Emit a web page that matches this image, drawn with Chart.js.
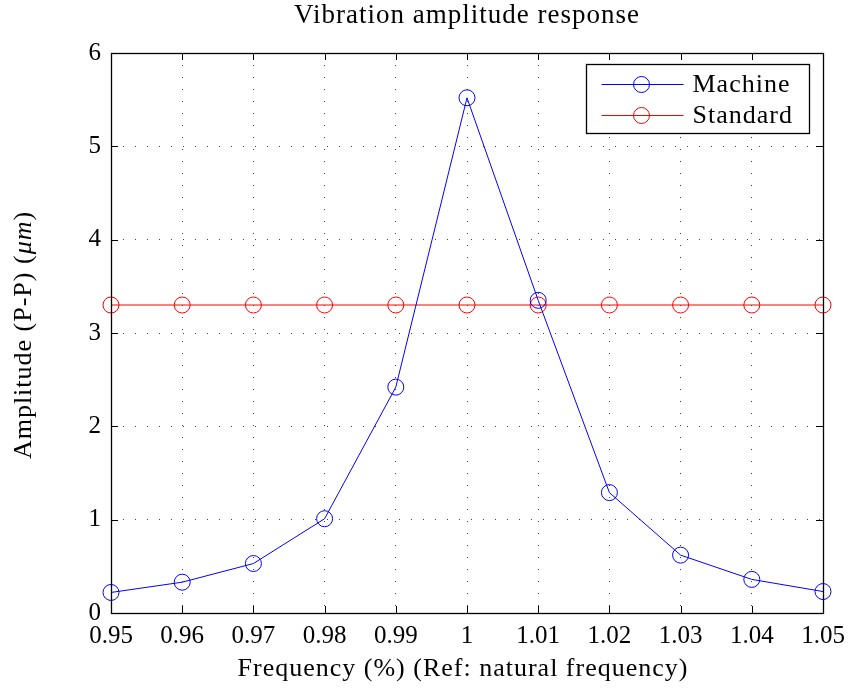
<!DOCTYPE html>
<html>
<head>
<meta charset="utf-8">
<script src="https://cdn.jsdelivr.net/npm/chart.js@4/dist/chart.umd.min.js"></script>
<style>
  html, body { margin: 0; padding: 0; background: #fff; }
</style>
</head>
<body>
<canvas id="chart" width="848" height="693"></canvas>
<script>
// data
const freq = [0.95, 0.96, 0.97, 0.98, 0.99, 1.00, 1.01, 1.02, 1.03, 1.04, 1.05];
const machine = [0.22, 0.33, 0.53, 1.01, 2.42, 5.52, 3.35, 1.29, 0.62, 0.36, 0.23];
const standard = [3.3, 3.3, 3.3, 3.3, 3.3, 3.3, 3.3, 3.3, 3.3, 3.3, 3.3];
const xTicks = [0.95, 0.96, 0.97, 0.98, 0.99, 1.00, 1.01, 1.02, 1.03, 1.04, 1.05];
const yTicks = [0, 1, 2, 3, 4, 5, 6];
const seriesNames = ['Machine', 'Standard'];
const seriesColors = ['#0000ff', '#ff0000'];
const titleText = 'Vibration amplitude response';
const xTitle = 'Frequency (%) (Ref: natural frequency)';

const FONT = '"Liberation Serif", "DejaVu Serif", serif';

function pts(ys) {
  return freq.map((x, i) => ({ x: x, y: ys[i] }));
}

function ds(label, ys, color) {
  return {
    label: label,
    data: pts(ys),
    borderColor: color,
    borderWidth: 1,
    pointStyle: 'circle',
    pointRadius: 8,
    pointHoverRadius: 8,
    pointBorderWidth: 1,
    pointBorderColor: color,
    pointBackgroundColor: 'rgba(0,0,0,0)',
    tension: 0,
    clip: false
  };
}

// frame, inward tick marks, boxed legend, titles
const decor = {
  id: 'decor',
  afterDraw(chart) {
    const ctx = chart.ctx;
    const a = chart.chartArea;
    const xs = chart.scales.x, ys = chart.scales.y;
    const tl = 7;
    const midX = (a.left + a.right) / 2;
    const midY = (a.top + a.bottom) / 2;
    ctx.save();
    ctx.strokeStyle = '#000';
    ctx.lineWidth = 1;
    ctx.beginPath();
    xTicks.forEach(v => {
      const px = Math.round(xs.getPixelForValue(v)) + 0.5;
      ctx.moveTo(px, a.bottom); ctx.lineTo(px, a.bottom - tl);
      ctx.moveTo(px, a.top); ctx.lineTo(px, a.top + tl);
    });
    yTicks.forEach(v => {
      const py = Math.round(ys.getPixelForValue(v)) + 0.5;
      ctx.moveTo(a.left, py); ctx.lineTo(a.left + tl, py);
      ctx.moveTo(a.right, py); ctx.lineTo(a.right - tl, py);
    });
    ctx.stroke();
    ctx.lineWidth = 1.3;
    ctx.strokeRect(Math.round(a.left) + 0.5, Math.round(a.top) + 0.5,
      Math.round(a.right - a.left), Math.round(a.bottom - a.top));

    // legend
    const bw = 223, bh = 69;
    const bx = Math.round(a.right - 14 - bw) + 0.5, by = Math.round(a.top + 11) + 0.5;
    ctx.fillStyle = '#fff';
    ctx.fillRect(bx, by, bw, bh);
    ctx.lineWidth = 1.3;
    ctx.strokeRect(bx, by, bw, bh);
    ctx.letterSpacing = '1px';
    ctx.font = '26px ' + FONT;
    ctx.textBaseline = 'middle';
    ctx.textAlign = 'left';
    seriesNames.forEach((name, i) => {
      const cy = by + 20 + i * 31;
      ctx.strokeStyle = seriesColors[i];
      ctx.lineWidth = 1;
      ctx.beginPath();
      ctx.moveTo(bx + 15, cy); ctx.lineTo(bx + 97, cy);
      ctx.stroke();
      ctx.beginPath();
      ctx.arc(bx + 55, cy, 8, 0, Math.PI * 2);
      ctx.stroke();
      ctx.fillStyle = '#000';
      ctx.fillText(name, bx + 106, cy + 1);
    });

    // chart title and x title
    ctx.textBaseline = 'alphabetic';
    ctx.textAlign = 'center';
    ctx.font = '27px ' + FONT;
    ctx.fillText(titleText, midX, 23);
    ctx.font = '26px ' + FONT;
    ctx.fillText(xTitle, midX - 4, 676);

    // y axis title with italic unit
    ctx.textAlign = 'left';
    const parts = [['Amplitude (P-P) (', ''], ['\u03bcm', 'italic '], [')', '']];
    let total = 0;
    parts.forEach(p => { ctx.font = p[1] + '26px ' + FONT; total += ctx.measureText(p[0]).width; });
    ctx.translate(31, midY + 2);
    ctx.rotate(-Math.PI / 2);
    let x = -total / 2;
    parts.forEach(p => {
      ctx.font = p[1] + '26px ' + FONT;
      ctx.fillText(p[0], x, 0);
      x += ctx.measureText(p[0]).width;
    });
    ctx.restore();
  }
};

new Chart(document.getElementById('chart'), {
  type: 'line',
  data: {
    datasets: [
      ds(seriesNames[0], machine, seriesColors[0]),
      ds(seriesNames[1], standard, seriesColors[1])
    ]
  },
  options: {
    responsive: false,
    animation: false,
    layout: { padding: { left: 0, right: 25, top: 53, bottom: 0 } },
    plugins: {
      legend: { display: false },
      tooltip: { enabled: false },
      title: { display: false }
    },
    scales: {
      x: {
        type: 'linear',
        min: 0.95,
        max: 1.05,
        afterBuildTicks: s => { s.ticks = xTicks.map(v => ({ value: v })); },
        afterFit: s => { s.height = 80; s.paddingLeft = 0; s.paddingRight = 0; },
        ticks: {
          color: '#000',
          padding: 8,
          maxRotation: 0,
          autoSkip: false,
          font: { family: FONT, size: 25 },
          callback: v => String(+(+v).toFixed(2))
        },
        grid: { color: '#444', lineWidth: 1, drawTicks: false },
        border: { display: false, dash: [1, 11] }
      },
      y: {
        type: 'linear',
        min: 0,
        max: 6,
        afterBuildTicks: s => { s.ticks = yTicks.map(v => ({ value: v })); },
        afterFit: s => { s.width = 111; s.paddingTop = 0; s.paddingBottom = 0; },
        ticks: {
          color: '#000',
          padding: 10,
          font: { family: FONT, size: 25 }
        },
        grid: { color: '#444', lineWidth: 1, drawTicks: false },
        border: { display: false, dash: [1, 11] }
      }
    }
  },
  plugins: [decor]
});
</script>
</body>
</html>
